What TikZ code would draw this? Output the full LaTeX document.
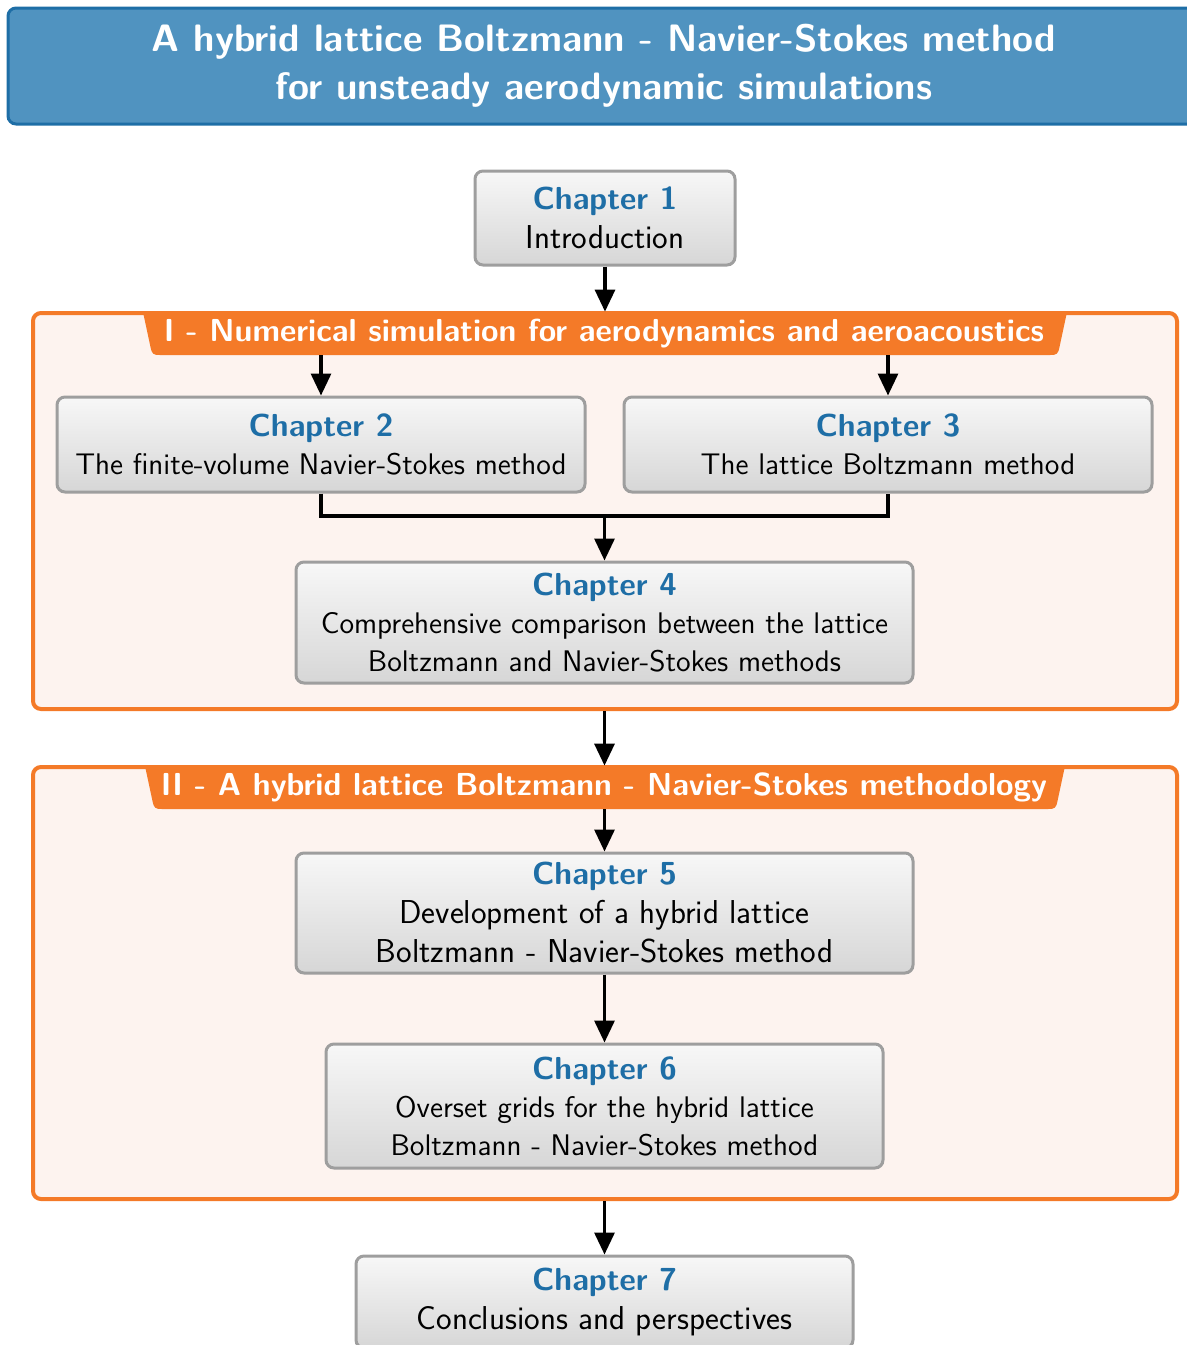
\documentclass[tikz,border=0pt]{standalone}
\usepackage{fontspec}
\usetikzlibrary{arrows.meta,positioning,calc}
\definecolor{secorange}{RGB}{244,122,40}
\definecolor{secfill}{RGB}{253,243,239}
\definecolor{titlefill}{RGB}{80,147,192}
\definecolor{titleborder}{RGB}{30,110,166}
\definecolor{chblue}{RGB}{30,110,166}
\definecolor{boxborder}{RGB}{158,158,158}
\tikzset{
  chapbox/.style={draw=boxborder, line width=1.5pt, rounded corners=4pt,
    top color=white!97!black, bottom color=black!16, inner sep=0pt,
    align=center, font=\sffamily\fontsize{14.9}{19}\selectfont},
  bigtext/.style={font=\sffamily\fontsize{16.55}{19.5}\selectfont},
  secframe/.style={draw=secorange, line width=2pt, rounded corners=4pt, fill=secfill, inner sep=0pt},
  sectab/.style={inner sep=0pt, text=white, font=\sffamily\bfseries\fontsize{15.9}{18}\selectfont},
  conn/.style={line width=1.6pt, black},
  arr/.style={conn, -{Triangle[length=11pt,width=10pt]}},
}
\newcommand{\chap}[1]{{\color{chblue}\bfseries\fontsize{15.9}{19}\selectfont Chapter #1}}
\begin{document}
\begin{tikzpicture}[x=0.5pt,y=-0.5pt]
\useasboundingbox (0,0) rectangle (1187,1345);
\clip (0,0) rectangle (1187,1345);
% title
\node[draw=titleborder, line width=1.5pt, fill=titlefill, rounded corners=4pt,
  minimum width=596pt, minimum height=58pt, inner sep=0pt, align=center,
  text=white, font=\sffamily\bfseries\fontsize{19.1}{24}\selectfont] (title) at (604,66)
  {A hybrid lattice Boltzmann - Navier-Stokes method\\for unsteady aerodynamic simulations};
% section frames
\node[secframe, minimum width=572pt, minimum height=198pt] (secI) at (605,511) {};
\node[secframe, minimum width=572pt, minimum height=216pt] (secII) at (605,983) {};
% tabs
\fill[secorange] (143,312) -- (150.5,347) .. controls (152,354) and (153,355) .. (160,355)
  -- (1050,355) .. controls (1057,355) and (1058,354) .. (1059.5,347) -- (1067,312) -- cycle;
\node[sectab, minimum height=21.5pt] (tabI) at (604,333.5) {I - Numerical simulation for aerodynamics and aeroacoustics};
\fill[secorange] (145,766) -- (152.5,801) .. controls (154,808) and (155,809) .. (162,809)
  -- (1048,809) .. controls (1055,809) and (1056,808) .. (1057.5,801) -- (1065,766) -- cycle;
\node[sectab, minimum height=21.5pt] (tabII) at (604,787.5) {II - A hybrid lattice Boltzmann - Navier-Stokes methodology};
% chapters
\node[chapbox, bigtext, minimum width=130pt, minimum height=47pt] (ch1) at (605,218) {\chap{1}\\Introduction};
\node[chapbox, minimum width=264pt, minimum height=47.5pt] (ch2) at (321,444.5) {\chap{2}\\The finite-volume Navier-Stokes method};
\node[chapbox, minimum width=264pt, minimum height=47.5pt] (ch3) at (888,444.5) {\chap{3}\\The lattice Boltzmann method};
\node[chapbox, minimum width=308.5pt, minimum height=60.5pt] (ch4) at (604.5,622.5) {\chap{4}\\Comprehensive comparison between the lattice\\Boltzmann and Navier-Stokes methods};
\node[chapbox, bigtext, minimum width=308.5pt, minimum height=60pt] (ch5) at (604.5,913) {\chap{5}\\Development of a hybrid lattice\\Boltzmann - Navier-Stokes method};
\node[chapbox, minimum width=278.5pt, minimum height=62pt] (ch6) at (604.5,1106) {\chap{6}\\Overset grids for the hybrid lattice\\Boltzmann - Navier-Stokes method};
\node[chapbox, bigtext, minimum width=248.5pt, minimum height=46pt] (ch7) at (604.5,1302) {\chap{7}\\Conclusions and perspectives};
% connectors
\draw[arr] (ch1.south) -- (ch1.south |- tabI.north);
\draw[arr] (ch2.north |- tabI.south) -- (ch2.north);
\draw[arr] (ch3.north |- tabI.south) -- (ch3.north);
\coordinate (j) at (604.5,516);
\draw[conn] (ch2.south) |- (j) -| (ch3.south);
\draw[arr] (j) -- (ch4.north);
\draw[arr] (ch4.north |- secI.south) -- (ch4.north |- tabII.north);
\draw[arr] (ch5.north |- tabII.south) -- (ch5.north);
\draw[arr] (ch5.south) -- (ch6.north);
\draw[arr] (ch7.north |- secII.south) -- (ch7.north);
\end{tikzpicture}
\end{document}
